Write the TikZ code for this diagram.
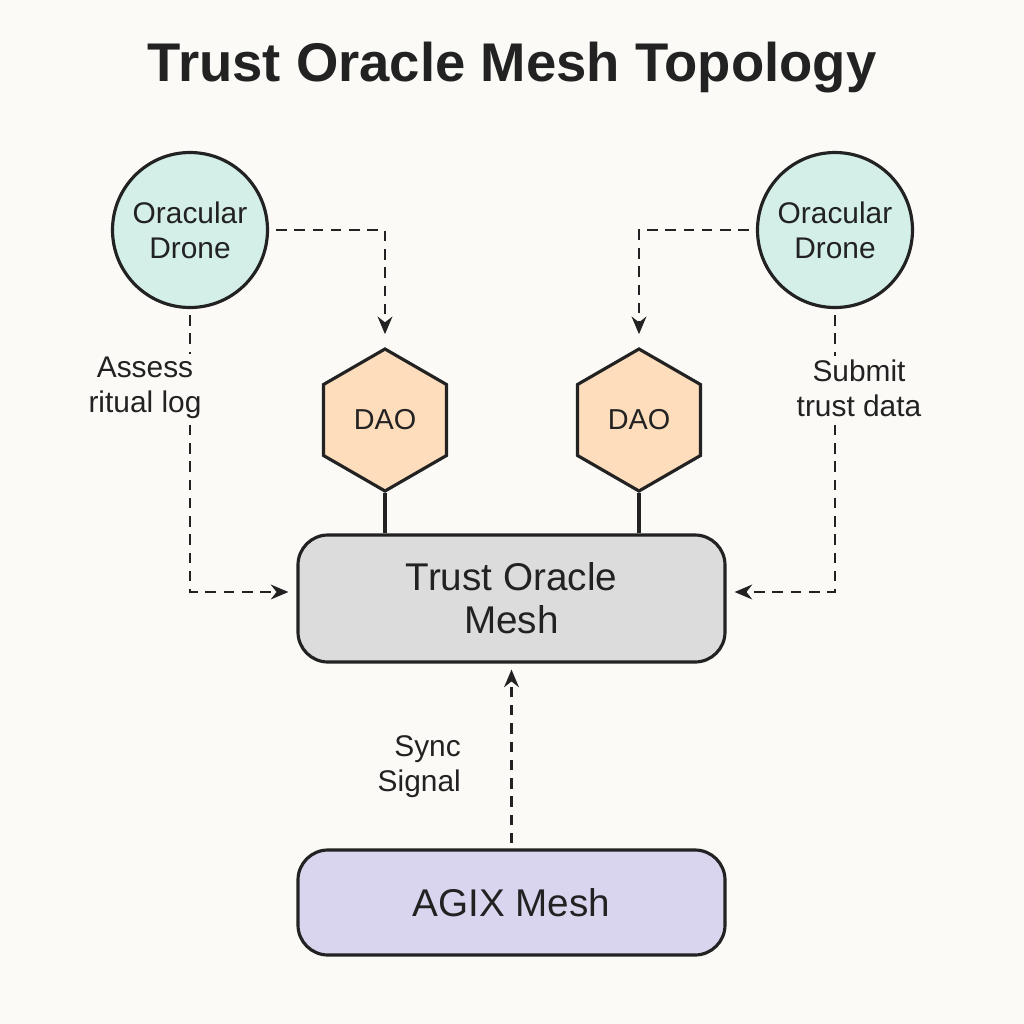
\documentclass[tikz,border=0pt]{standalone}
\usepackage{fontspec}
\setmainfont{Liberation Sans}
\usetikzlibrary{shapes.geometric,arrows.meta}
\definecolor{bgcol}{HTML}{FBFAF7}
\definecolor{inkcol}{HTML}{222222}
\definecolor{dronecol}{HTML}{D3EFE7}
\definecolor{daocol}{HTML}{FDDDBC}
\definecolor{meshcol}{HTML}{DCDCDC}
\definecolor{agixcol}{HTML}{DAD5EF}
\tikzset{
    shapeline/.style={draw=inkcol, line width=0.9pt},
    flow/.style={draw=inkcol, line width=0.7pt, dash pattern=on 3pt off 2.2pt,
        -{Stealth[length=5pt,width=4.2pt]}},
    drone/.style={circle, shapeline, fill=dronecol, minimum size=1.55cm, inner sep=0pt,
        align=center, text=inkcol, font=\fontsize{8.5}{10}\selectfont},
    dao/.style={regular polygon, regular polygon sides=6, shape border rotate=30,
        shapeline, fill=daocol, minimum size=1.42cm, inner sep=0pt,
        text=inkcol, font=\fontsize{8.2}{10}\selectfont},
    meshbox/.style={rectangle, rounded corners=0.3cm, shapeline, minimum width=4.27cm,
        align=center, text=inkcol, font=\fontsize{11}{12.2}\selectfont},
    tag/.style={fill=bgcol, inner sep=1pt, text=inkcol, font=\fontsize{8.5}{10}\selectfont}
}
\begin{document}
\begin{tikzpicture}
    \fill[bgcol] (0,0) rectangle (10.24,-10.24);
    \useasboundingbox (0,0) rectangle (10.24,-10.24);

    \node[text=inkcol, font=\bfseries\fontsize{15.5}{18}\selectfont] (title) at (5.12,-0.68) {Trust Oracle Mesh Topology};

    \node[drone] (droneL) at (1.90,-2.30) {Oracular\\Drone};
    \node[drone] (droneR) at (8.35,-2.30) {Oracular\\Drone};

    \node[dao] (daoL) at (3.85,-4.20) {DAO};
    \node[dao] (daoR) at (6.39,-4.20) {DAO};

    \node[meshbox, fill=meshcol, minimum height=1.27cm] (tom) at (5.115,-5.985) {Trust Oracle\\Mesh};
    \node[meshbox, fill=agixcol, minimum height=1.05cm] (agix) at (5.115,-9.025) {AGIX Mesh};

    \draw[flow, shorten <=0.07cm, shorten >=0.13cm] (droneL.east) -| (daoL.north);
    \draw[flow, shorten <=0.07cm, shorten >=0.13cm] (droneR.west) -| (daoR.north);

    \draw[flow, shorten <=0.06cm, shorten >=0.08cm] (droneL.south) |- ([yshift=0.065cm]tom.west);
    \draw[flow, shorten <=0.06cm, shorten >=0.08cm] (droneR.south) |- ([yshift=0.065cm]tom.east);

    \draw[shapeline] (daoL.south) -- (daoL.south |- tom.north);
    \draw[shapeline] (daoR.south) -- (daoR.south |- tom.north);

    \draw[flow, shorten <=0.05cm, shorten >=0.06cm] (agix.north) -- (tom.south);

    \node[tag, align=center] (assess) at (1.45,-3.88) {Assess\\ritual log};
    \node[tag, align=center] (submit) at (8.59,-3.88) {Submit\\trust data};
    \node[tag, align=right, fill=none, anchor=east] (sync) at (4.65,-7.67) {Sync\\Signal};
\end{tikzpicture}
\end{document}
